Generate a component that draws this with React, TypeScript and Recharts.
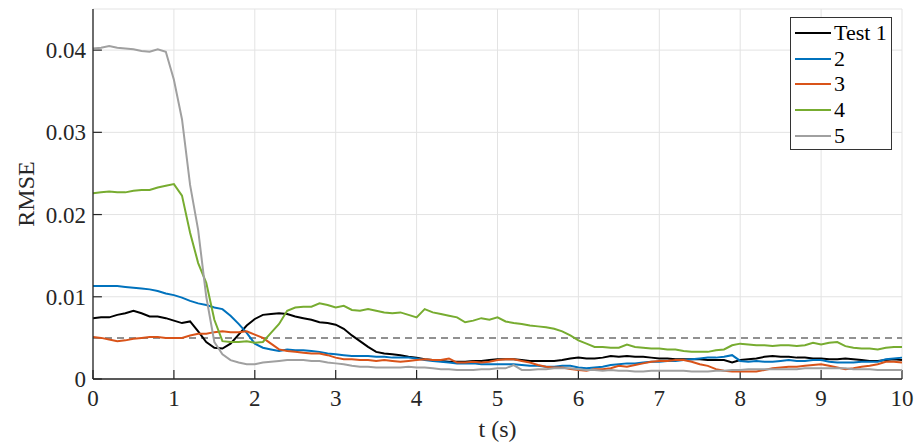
import React from 'react';
import { LineChart, Line, XAxis, YAxis, CartesianGrid, ReferenceLine } from 'recharts';

// time samples (s)
const TIME = [
  0, 0.1, 0.2, 0.3, 0.4, 0.5, 0.6, 0.7, 0.8, 0.9,
  1, 1.1, 1.2, 1.3, 1.4, 1.5, 1.6, 1.7, 1.8, 1.9,
  2, 2.1, 2.2, 2.3, 2.4, 2.5, 2.6, 2.7, 2.8, 2.9,
  3, 3.1, 3.2, 3.3, 3.4, 3.5, 3.6, 3.7, 3.8, 3.9,
  4, 4.1, 4.2, 4.3, 4.4, 4.5, 4.6, 4.7, 4.8, 4.9,
  5, 5.1, 5.2, 5.3, 5.4, 5.5, 5.6, 5.7, 5.8, 5.9,
  6, 6.1, 6.2, 6.3, 6.4, 6.5, 6.6, 6.7, 6.8, 6.9,
  7, 7.1, 7.2, 7.3, 7.4, 7.5, 7.6, 7.7, 7.8, 7.9,
  8, 8.1, 8.2, 8.3, 8.4, 8.5, 8.6, 8.7, 8.8, 8.9,
  9, 9.1, 9.2, 9.3, 9.4, 9.5, 9.6, 9.7, 9.8, 9.9,
  10,
];

const TEST1 = [
  0.0074, 0.0075, 0.0075, 0.0078, 0.0080, 0.0083, 0.0080, 0.0076, 0.0076, 0.0074,
  0.0071, 0.0068, 0.0070, 0.0058, 0.0045, 0.0038, 0.0037, 0.0043, 0.0054, 0.0065,
  0.0073, 0.0078, 0.0079, 0.0080, 0.0079, 0.0076, 0.0074, 0.0072, 0.0069, 0.0068,
  0.0066, 0.0061, 0.0053, 0.0046, 0.0039, 0.0033, 0.0031, 0.0030, 0.0029, 0.0027,
  0.0026, 0.0024, 0.0023, 0.0022, 0.0021, 0.0021, 0.0021, 0.0022, 0.0022, 0.0023,
  0.0024, 0.0024, 0.0024, 0.0023, 0.0022, 0.0022, 0.0022, 0.0022, 0.0023, 0.0025,
  0.0026, 0.0025, 0.0025, 0.0026, 0.0028, 0.0027, 0.0028, 0.0027, 0.0027, 0.0026,
  0.0025, 0.0025, 0.0024, 0.0024, 0.0024, 0.0024, 0.0023, 0.0023, 0.0023, 0.0020,
  0.0023, 0.0024, 0.0025, 0.0027, 0.0028, 0.0027, 0.0027, 0.0026, 0.0026, 0.0025,
  0.0025, 0.0024, 0.0024, 0.0025, 0.0024, 0.0023, 0.0022, 0.0022, 0.0023, 0.0024,
  0.0023,
];

const TEST2 = [
  0.0113, 0.0113, 0.0113, 0.0113, 0.0112, 0.0111, 0.0110, 0.0109, 0.0107, 0.0104,
  0.0102, 0.0099, 0.0095, 0.0092, 0.0090, 0.0087, 0.0085, 0.0077, 0.0067, 0.0056,
  0.0043, 0.0038, 0.0036, 0.0034, 0.0036, 0.0035, 0.0035, 0.0034, 0.0033, 0.0031,
  0.0030, 0.0029, 0.0028, 0.0028, 0.0028, 0.0027, 0.0027, 0.0026, 0.0026, 0.0026,
  0.0025, 0.0023, 0.0022, 0.0021, 0.0020, 0.0019, 0.0019, 0.0019, 0.0018, 0.0018,
  0.0018, 0.0018, 0.0018, 0.0017, 0.0016, 0.0016, 0.0015, 0.0015, 0.0016, 0.0016,
  0.0014, 0.0013, 0.0014, 0.0015, 0.0017, 0.0018, 0.0019, 0.0019, 0.0020, 0.0021,
  0.0021, 0.0022, 0.0022, 0.0023, 0.0024, 0.0025, 0.0026, 0.0026, 0.0027, 0.0029,
  0.0022, 0.0021, 0.0022, 0.0021, 0.0021, 0.0022, 0.0023, 0.0022, 0.0022, 0.0023,
  0.0023, 0.0021, 0.0020, 0.0020, 0.0020, 0.0021, 0.0021, 0.0021, 0.0024, 0.0025,
  0.0026,
];

const TEST3 = [
  0.0051, 0.0050, 0.0048, 0.0046, 0.0047, 0.0049, 0.0050, 0.0051, 0.0051, 0.0050,
  0.0050, 0.0050, 0.0053, 0.0055, 0.0055, 0.0057, 0.0058, 0.0057, 0.0057, 0.0058,
  0.0054, 0.0050, 0.0043, 0.0036, 0.0034, 0.0033, 0.0032, 0.0031, 0.0031, 0.0029,
  0.0026, 0.0024, 0.0024, 0.0023, 0.0023, 0.0022, 0.0023, 0.0022, 0.0021, 0.0022,
  0.0023, 0.0024, 0.0023, 0.0023, 0.0025, 0.0020, 0.0020, 0.0021, 0.0020, 0.0021,
  0.0023, 0.0024, 0.0024, 0.0022, 0.0020, 0.0017, 0.0015, 0.0014, 0.0014, 0.0012,
  0.0011, 0.0010, 0.0012, 0.0012, 0.0013, 0.0016, 0.0015, 0.0017, 0.0019, 0.0021,
  0.0022, 0.0022, 0.0023, 0.0023, 0.0021, 0.0018, 0.0016, 0.0012, 0.0010, 0.0009,
  0.0009, 0.0009, 0.0009, 0.0011, 0.0013, 0.0014, 0.0015, 0.0015, 0.0016, 0.0017,
  0.0018, 0.0016, 0.0014, 0.0012, 0.0013, 0.0015, 0.0016, 0.0018, 0.0021, 0.0021,
  0.0020,
];

const TEST4 = [
  0.0226, 0.0227, 0.0228, 0.0227, 0.0227, 0.0229, 0.0230, 0.0230, 0.0233, 0.0235,
  0.0237, 0.0223, 0.0178, 0.0141, 0.0117, 0.0072, 0.0046, 0.0045, 0.0045, 0.0046,
  0.0044, 0.0045, 0.0056, 0.0067, 0.0083, 0.0087, 0.0088, 0.0088, 0.0092, 0.0090,
  0.0087, 0.0089, 0.0084, 0.0083, 0.0085, 0.0083, 0.0081, 0.0080, 0.0081, 0.0078,
  0.0075, 0.0085, 0.0081, 0.0079, 0.0077, 0.0075, 0.0069, 0.0071, 0.0074, 0.0072,
  0.0075, 0.0070, 0.0068, 0.0067, 0.0065, 0.0064, 0.0063, 0.0061, 0.0058, 0.0053,
  0.0047, 0.0043, 0.0039, 0.0039, 0.0038, 0.0038, 0.0042, 0.0039, 0.0038, 0.0037,
  0.0037, 0.0036, 0.0036, 0.0034, 0.0033, 0.0033, 0.0033, 0.0035, 0.0036, 0.0041,
  0.0043, 0.0042, 0.0041, 0.0041, 0.0040, 0.0041, 0.0041, 0.0040, 0.0041, 0.0044,
  0.0042, 0.0044, 0.0045, 0.0040, 0.0038, 0.0037, 0.0037, 0.0036, 0.0038, 0.0039,
  0.0039,
];

const TEST5 = [
  0.0402, 0.0403, 0.0405, 0.0403, 0.0402, 0.0401, 0.0399, 0.0398, 0.0401, 0.0398,
  0.0364, 0.0316, 0.0236, 0.0181, 0.0100, 0.0045, 0.0030, 0.0023, 0.0020, 0.0018,
  0.0018, 0.0020, 0.0021, 0.0022, 0.0023, 0.0023, 0.0023, 0.0022, 0.0022, 0.0020,
  0.0019, 0.0018, 0.0016, 0.0015, 0.0015, 0.0014, 0.0014, 0.0014, 0.0014, 0.0015,
  0.0014, 0.0014, 0.0013, 0.0012, 0.0012, 0.0011, 0.0011, 0.0011, 0.0012, 0.0012,
  0.0013, 0.0013, 0.0017, 0.0011, 0.0011, 0.0012, 0.0012, 0.0013, 0.0013, 0.0013,
  0.0012, 0.0011, 0.0011, 0.0010, 0.0011, 0.0010, 0.0010, 0.0009, 0.0009, 0.0010,
  0.0010, 0.0010, 0.0010, 0.0010, 0.0009, 0.0009, 0.0009, 0.0010, 0.0010, 0.0011,
  0.0011, 0.0012, 0.0012, 0.0012, 0.0012, 0.0012, 0.0012, 0.0012, 0.0013, 0.0013,
  0.0013, 0.0013, 0.0013, 0.0013, 0.0012, 0.0012, 0.0012, 0.0011, 0.0011, 0.0011,
  0.0011,
];

const X_TICKS = [0, 1, 2, 3, 4, 5, 6, 7, 8, 9, 10];
const Y_TICKS = [0, 0.01, 0.02, 0.03, 0.04];
const THRESHOLD = 0.005;

const SERIES = [
  { key: 's1', name: 'Test 1', color: '#000000', values: TEST1 },
  { key: 's2', name: '2', color: '#0072BD', values: TEST2 },
  { key: 's3', name: '3', color: '#D95319', values: TEST3 },
  { key: 's4', name: '4', color: '#77AC30', values: TEST4 },
  { key: 's5', name: '5', color: '#A0A0A0', values: TEST5 },
];

const data = TIME.map((t, i) => {
  const row: any = { t };
  SERIES.forEach((s) => { row[s.key] = s.values[i]; });
  return row;
});

const FONT = '"Liberation Serif", "DejaVu Serif", serif';
const AXIS_COLOR = '#262626';

function LegendBox() {
  return (
    <div style={{
      position: 'absolute', left: 790, top: 17,
      width: 102, height: 133, boxSizing: 'border-box', border: '1px solid #333',
      background: '#fff', paddingTop: 2, fontFamily: FONT, fontSize: 22, color: '#000',
    }}>
      {SERIES.map((s) => (
        <div key={s.key} style={{ display: 'flex', alignItems: 'center', height: 25.8 }}>
          <svg width={40} height={6} style={{ marginLeft: 3 }}>
            <line x1={1} y1={3} x2={37} y2={3} stroke={s.color} strokeWidth={2} />
          </svg>
          <span style={{ lineHeight: 1 }}>{s.name}</span>
        </div>
      ))}
    </div>
  );
}

export default function App() {
  return (
    <div style={{ position: 'absolute', left: 0, top: 0, width: 916, height: 444, background: '#fff' }}>
      <LineChart width={916} height={444} data={data} margin={{ top: 9, right: 14, bottom: 5, left: 0 }}>
        <CartesianGrid stroke="#e3e3e3" strokeWidth={1} />
        <XAxis
          dataKey="t" type="number" domain={[0, 10]} ticks={X_TICKS} height={60}
          tickSize={0} tickMargin={11} tickLine={false}
          axisLine={{ stroke: AXIS_COLOR, strokeWidth: 1.3 }}
          tick={{ fill: AXIS_COLOR, fontSize: 23, fontFamily: FONT }}
          label={{ value: 't (s)', position: 'insideBottom', offset: 2, fill: AXIS_COLOR, fontSize: 24, fontFamily: FONT }}
        />
        <YAxis
          type="number" domain={[0, 0.045]} ticks={Y_TICKS} width={93} allowDataOverflow
          tickSize={0} tickMargin={7} tickLine={false}
          tickFormatter={(v: number) => (v === 0 ? '0' : v.toFixed(2))}
          axisLine={{ stroke: AXIS_COLOR, strokeWidth: 1.3 }}
          tick={{ fill: AXIS_COLOR, fontSize: 23, fontFamily: FONT }}
          label={{ value: 'RMSE', angle: -90, position: 'insideLeft', offset: 25, fill: AXIS_COLOR, fontSize: 24, fontFamily: FONT, style: { textAnchor: 'middle' } }}
        />
        {/* inward tick marks */}
        {Y_TICKS.map((v) => (
          <ReferenceLine key={'yt' + v} segment={[{ x: 0, y: v }, { x: 0.11, y: v }]} stroke={AXIS_COLOR} strokeWidth={1.2} />
        ))}
        {X_TICKS.map((v) => (
          <ReferenceLine key={'xt' + v} segment={[{ x: v, y: 0 }, { x: v, y: 0.0011 }]} stroke={AXIS_COLOR} strokeWidth={1.2} />
        ))}
        <ReferenceLine y={THRESHOLD} stroke="#6e6e6e" strokeWidth={1.5} strokeDasharray="7 5" />
        {SERIES.map((s) => (
          <Line
            key={s.key} type="linear" dataKey={s.key} name={s.name} stroke={s.color}
            strokeWidth={2} dot={false} isAnimationActive={false}
          />
        ))}
      </LineChart>
      <LegendBox />
    </div>
  );
}
